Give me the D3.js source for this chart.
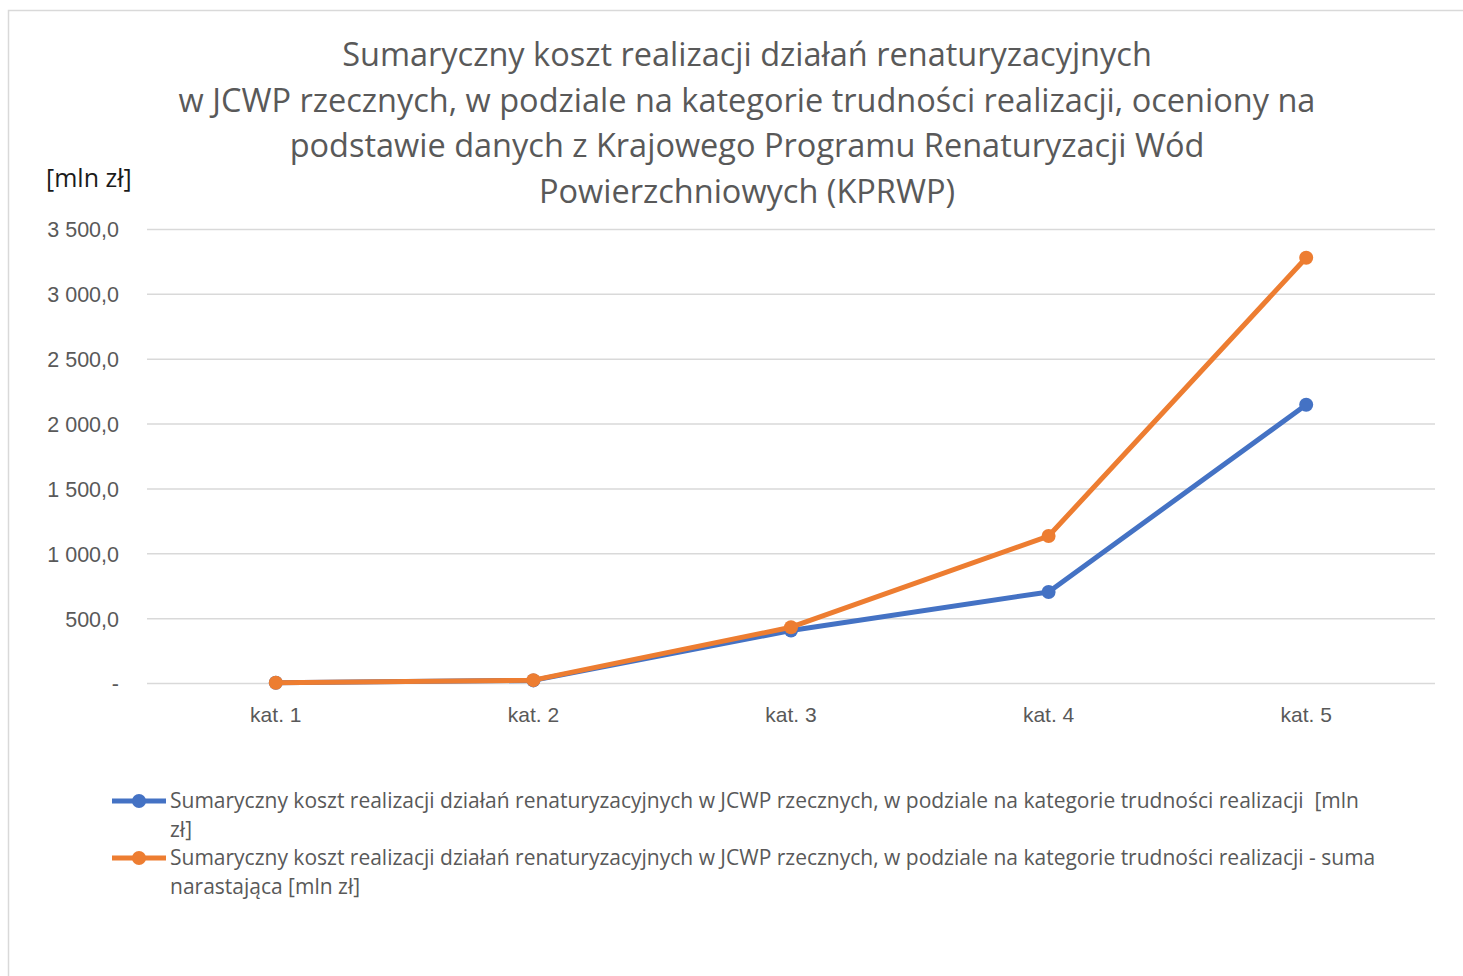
<!DOCTYPE html>
<html>
<head>
<meta charset="UTF-8">
<title>KPRWP</title>
<script src="https://d3js.org/d3.v7.min.js"></script>
<style>
  body { margin: 0; background: #fff; }
  svg { font-family: "Open Sans", Lato, sans-serif; }
  .grid line { stroke: #d9d9d9; stroke-width: 1.5; }
  .grid path { display: none; }
  .axis path, .axis line { display: none; }
  .axis text { fill: #595959; font-size: 21px; }
  .axis.y text { font-size: 21.5px; }
  .legend text { white-space: pre; }
</style>
</head>
<body>
<script>
// data
var categories = ["kat. 1", "kat. 2", "kat. 3", "kat. 4", "kat. 5"];
var costByCategory = [1.5, 20, 405, 702, 2145];
var costCumulative = [1.5, 22, 430, 1133, 3278];
var yTicks = [0, 500, 1000, 1500, 2000, 2500, 3000, 3500];
var titleLines = [
  "Sumaryczny koszt realizacji działań renaturyzacyjnych",
  "w JCWP rzecznych, w podziale na kategorie trudności realizacji, oceniony na",
  "podstawie danych z Krajowego Programu Renaturyzacji Wód",
  "Powierzchniowych (KPRWP)"
];
var legendLabels = [
  ["Sumaryczny koszt realizacji działań renaturyzacyjnych w JCWP rzecznych, w podziale na kategorie trudności realizacji  [mln", "zł]"],
  ["Sumaryczny koszt realizacji działań renaturyzacyjnych w JCWP rzecznych, w podziale na kategorie trudności realizacji - suma", "narastająca [mln zł]"]
];
var colors = ["#4472c4", "#ed7d31"];
var unitLabel = "[mln zł]";

var W = 1463, H = 976;
var margin = {top: 229, left: 147, right: 28, bottom: 293};
var width = W - margin.left - margin.right,
    height = H - margin.top - margin.bottom;

var svg = d3.select("body").append("svg")
    .attr("width", W)
    .attr("height", H);

// chart border
svg.append("rect")
    .attr("x", 8.5).attr("y", 10.5)
    .attr("width", W).attr("height", H)
    .attr("fill", "none")
    .attr("stroke", "#d9d9d9")
    .attr("stroke-width", 1.5);

var x = d3.scaleBand().domain(categories).range([0, width]);
var y = d3.scaleLinear().domain([0, 3500]).range([height, 0]);

var g = svg.append("g")
    .attr("transform", "translate(" + margin.left + "," + margin.top + ")");

// gridlines
g.append("g")
    .attr("class", "grid")
    .call(d3.axisLeft(y).tickValues(yTicks).tickSize(-width).tickFormat(""));

var fmt = function (d) {
  if (d === 0) return "-";
  var s = d3.format(",.1f")(d);
  return s.replace(/,/g, " ").replace(".", ",");
};

g.append("g")
    .attr("class", "axis y")
    .attr("transform", "translate(-28,1)")
    .call(d3.axisLeft(y).tickValues(yTicks).tickSize(0).tickPadding(0).tickFormat(fmt));

g.append("g")
    .attr("class", "axis")
    .attr("transform", "translate(0," + height + ")")
    .call(d3.axisBottom(x).tickSize(0).tickPadding(24));

// series
var series = [costByCategory, costCumulative];
var line = d3.line()
    .x(function (d, i) { return x(categories[i]) + x.bandwidth() / 2; })
    .y(function (d) { return y(d); });

series.forEach(function (s, k) {
  g.append("path")
      .datum(s)
      .attr("d", line)
      .attr("fill", "none")
      .attr("stroke", colors[k])
      .attr("stroke-width", 5)
      .attr("stroke-linejoin", "round");
  g.selectAll(".dot" + k)
      .data(s)
      .enter().append("circle")
      .attr("cx", function (d, i) { return x(categories[i]) + x.bandwidth() / 2; })
      .attr("cy", function (d) { return y(d); })
      .attr("r", 7)
      .attr("fill", colors[k]);
});

// title
var title = svg.append("text")
    .attr("text-anchor", "middle")
    .attr("fill", "#595959")
    .style("font-size", "32.5px");
title.selectAll("tspan")
    .data(titleLines)
    .enter().append("tspan")
    .attr("x", 747)
    .attr("y", function (d, i) { return 66 + i * 45.5; })
    .text(function (d) { return d; });

// unit
svg.append("text")
    .attr("x", 46).attr("y", 187)
    .attr("fill", "#1a1a1a")
    .style("font-size", "25px")
    .text(unitLabel);

// legend
var legend = svg.append("g").attr("class", "legend");
legendLabels.forEach(function (lines, k) {
  var ly = 801 + k * 57;
  legend.append("line")
      .attr("x1", 112).attr("x2", 166)
      .attr("y1", ly).attr("y2", ly)
      .attr("stroke", colors[k])
      .attr("stroke-width", 5);
  legend.append("circle")
      .attr("cx", 139).attr("cy", ly).attr("r", 7)
      .attr("fill", colors[k]);
  var t = legend.append("text")
      .attr("fill", "#595959")
      .style("font-size", "21px");
  t.selectAll("tspan")
      .data(lines)
      .enter().append("tspan")
      .attr("x", 170)
      .attr("y", function (d, i) { return ly + 7 + i * 29; })
      .text(function (d) { return d; });
});
</script>
</body>
</html>
